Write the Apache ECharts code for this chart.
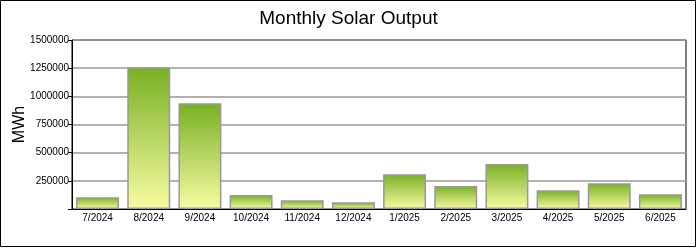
<!DOCTYPE html>
<html>
<head>
<meta charset="utf-8">
<script src="https://cdn.jsdelivr.net/npm/echarts@6/dist/echarts.min.js"></script>
<style>
html,body{margin:0;padding:0;background:#fff;}
#chart{width:697px;height:248px;}
</style>
</head>
<body>
<div id="chart"></div>
<script>
const categories = ['7/2024','8/2024','9/2024','10/2024','11/2024','12/2024','1/2025','2/2025','3/2025','4/2025','5/2025','6/2025'];
const outputMWh = [104000, 1258000, 938000, 124000, 77000, 59000, 308000, 204000, 399000, 166000, 228000, 130000];
const yTicks = [0, 250000, 500000, 750000, 1000000, 1250000, 1500000];

const FONT = '"Liberation Sans", Arial, sans-serif';
const chart = echarts.init(document.getElementById('chart'), null, {renderer: 'canvas'});
chart.setOption({
  animation: false,
  backgroundColor: '#fff',
  title: {
    text: 'Monthly Solar Output',
    left: 'center',
    top: 4,
    textStyle: {fontFamily: FONT, fontSize: 19, fontWeight: 'normal', color: '#000'}
  },
  graphic: [{
    type: 'rect',
    shape: {x: 0.5, y: 0.5, width: 695, height: 246},
    style: {fill: 'none', stroke: '#000', lineWidth: 1},
    silent: true
  }],
  grid: {left: 72, right: 11, top: 40, bottom: 39, containLabel: false, outerBoundsMode: 'none',
    show: true, borderColor: '#000', borderWidth: 1, backgroundColor: 'transparent'},
  xAxis: {
    type: 'category',
    data: categories,
    axisLine: {lineStyle: {color: '#000', width: 1}},
    axisTick: {alignWithLabel: true, length: 3, lineStyle: {color: '#000'}},
    axisLabel: {fontFamily: FONT, fontSize: 10, color: '#000', margin: 4, interval: 0}
  },
  yAxis: {
    type: 'value',
    min: yTicks[0],
    max: yTicks[yTicks.length - 1],
    interval: yTicks[1] - yTicks[0],
    name: 'MWh',
    nameLocation: 'middle',
    nameGap: 44,
    nameMoveOverlap: false,
    nameTextStyle: {fontFamily: FONT, fontSize: 16, color: '#000'},
    axisLine: {show: true, lineStyle: {color: '#000', width: 1}},
    axisTick: {show: true, length: 4, lineStyle: {color: '#000'}},
    axisLabel: {fontFamily: FONT, fontSize: 10, color: '#000', margin: 3,
      formatter: v => v === 0 ? '' : String(v)},
    splitLine: {show: true, lineStyle: {color: '#999', width: 1.5}}
  },
  series: [{
    type: 'bar',
    data: outputMWh,
    barCategoryGap: '16%',
    itemStyle: {
      color: new echarts.graphic.LinearGradient(0, 0, 0, 1, [
        {offset: 0, color: '#78b024'},
        {offset: 1, color: '#f8fca2'}
      ]),
      borderColor: '#999',
      borderWidth: 1.5
    }
  }]
});
</script>
</body>
</html>
